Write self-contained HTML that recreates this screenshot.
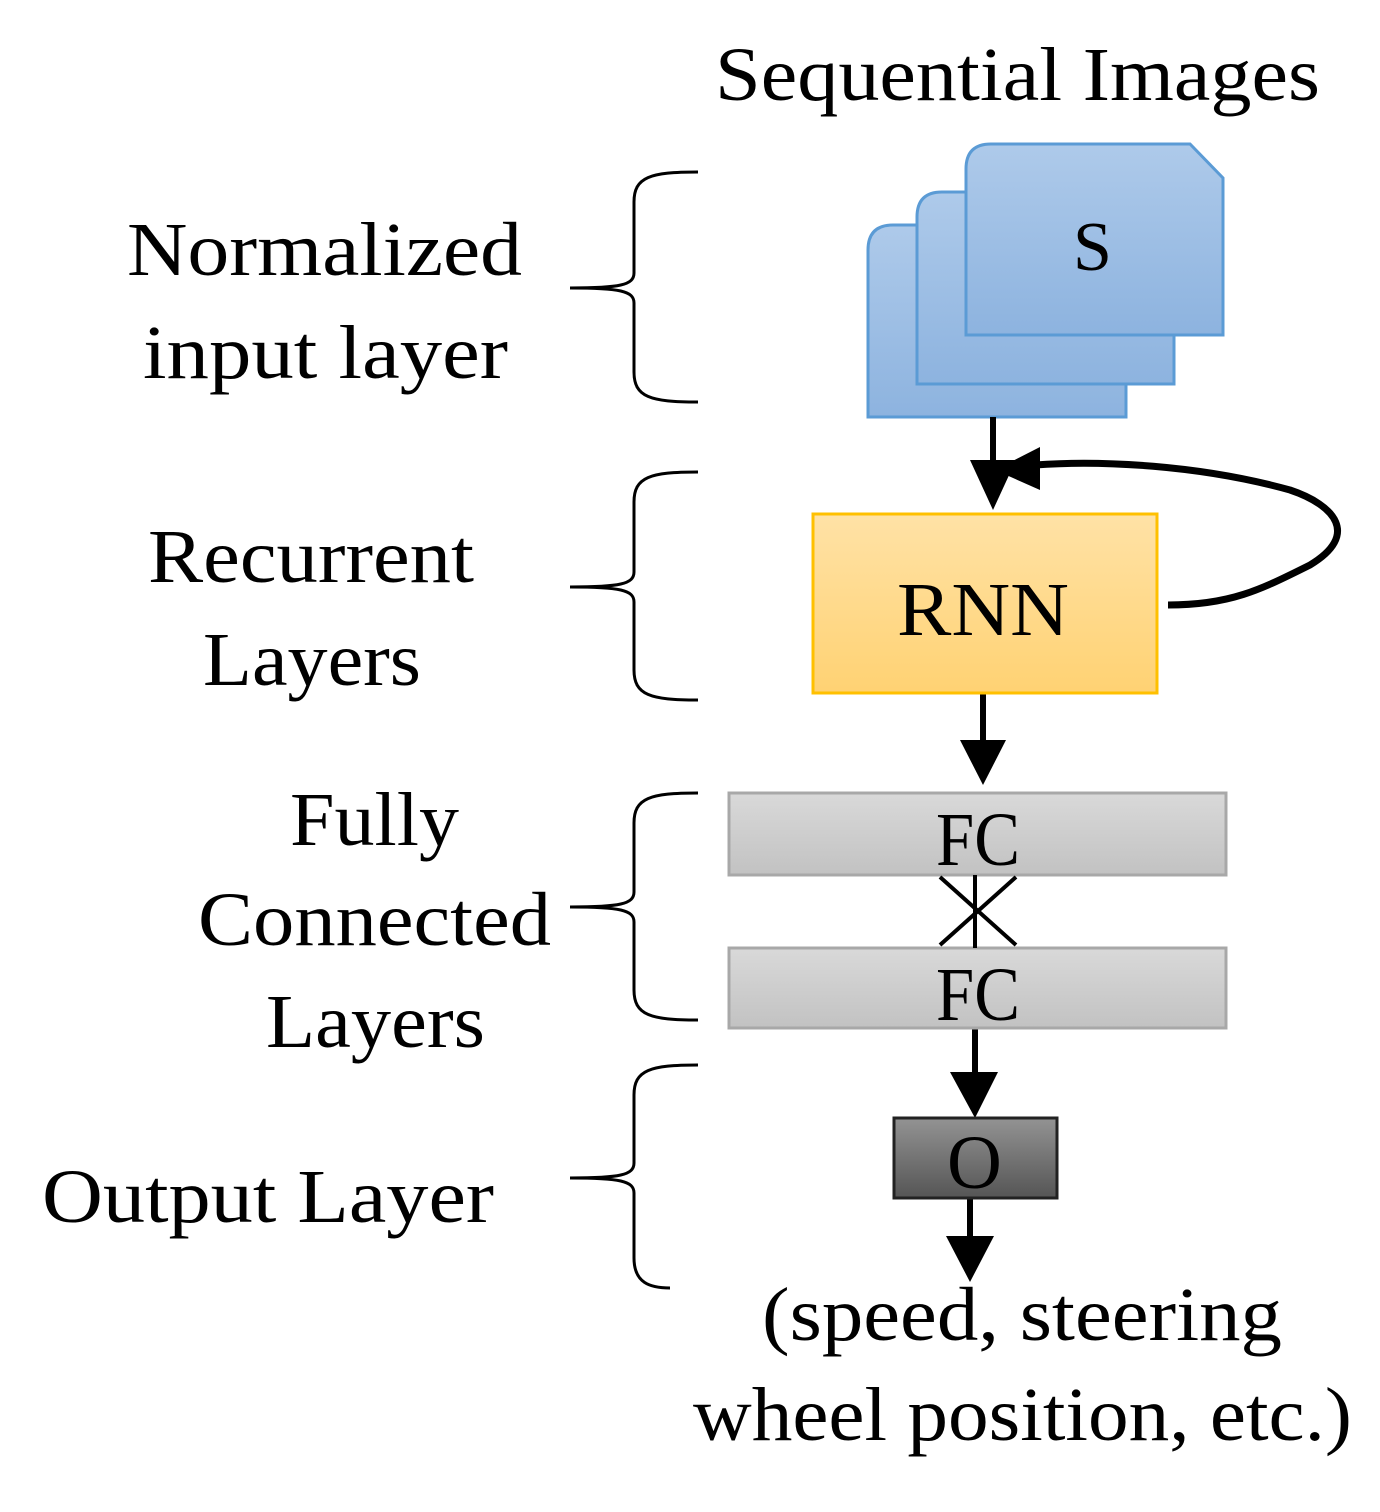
<!DOCTYPE html>
<html><head><meta charset="utf-8"><style>html,body{margin:0;padding:0;background:#fff}svg{display:block}</style></head>
<body>
<svg width="1380" height="1512" viewBox="0 0 1380 1512" xmlns="http://www.w3.org/2000/svg" font-family="'Liberation Serif', serif" font-size="76">
<defs>
<linearGradient id="gb" x1="0" y1="0" x2="0" y2="1"><stop offset="0" stop-color="#aecaea"/><stop offset="1" stop-color="#8db3df"/></linearGradient>
<linearGradient id="gy" x1="0" y1="0" x2="0" y2="1"><stop offset="0" stop-color="#ffe2a6"/><stop offset="1" stop-color="#ffd273"/></linearGradient>
<linearGradient id="gg" x1="0" y1="0" x2="0" y2="1"><stop offset="0" stop-color="#d9d9d9"/><stop offset="1" stop-color="#c2c2c2"/></linearGradient>
<linearGradient id="gd" x1="0" y1="0" x2="0" y2="1"><stop offset="0" stop-color="#939393"/><stop offset="1" stop-color="#555"/></linearGradient>
</defs>
<text x="715" y="100" textLength="605" lengthAdjust="spacingAndGlyphs">Sequential Images</text>
<path d="M868,417 L868,250 Q868,225 893,225 L1126,225 L1126,417 Z" fill="url(#gb)" stroke="#5b9bd5" stroke-width="3"/>
<path d="M917,384 L917,217 Q917,192 942,192 L1174,192 L1174,384 Z" fill="url(#gb)" stroke="#5b9bd5" stroke-width="3"/>
<path d="M966,335 L966,169 Q966,144 991,144 L1190,144 L1223,178 L1223,335 Z" fill="url(#gb)" stroke="#5b9bd5" stroke-width="3"/>
<text x="1073" y="270" font-size="70">S</text>
<g stroke="#000" stroke-width="6" fill="none">
<line x1="993" y1="417" x2="993" y2="470"/>
<line x1="983" y1="693" x2="983" y2="745"/>
<line x1="975" y1="1028" x2="975" y2="1080"/>
<line x1="970" y1="1198" x2="970" y2="1245"/>
<path d="M1168,605 C1230,605 1260,590 1310,565 C1360,535 1335,505 1290,490 C1200,465 1100,460 1035,465" stroke-width="7"/>
</g>
<g fill="#000">
<polygon points="970,460 1016,460 993,510"/>
<polygon points="960,740 1006,740 983,785"/>
<polygon points="950,1072 998,1072 975,1118"/>
<polygon points="946,1236 994,1236 970,1282"/>
<polygon points="995,470 1040,447 1040,490"/>
</g>
<rect x="813" y="514" width="344" height="179" fill="url(#gy)" stroke="#ffc000" stroke-width="3"/>
<text x="897" y="635" textLength="172" lengthAdjust="spacingAndGlyphs">RNN</text>
<rect x="729" y="793" width="497" height="82" fill="url(#gg)" stroke="#a8a8a8" stroke-width="3"/>
<rect x="729" y="948" width="497" height="80" fill="url(#gg)" stroke="#a8a8a8" stroke-width="3"/>
<text x="936" y="865" textLength="84" lengthAdjust="spacingAndGlyphs">FC</text>
<text x="936" y="1020" textLength="84" lengthAdjust="spacingAndGlyphs">FC</text>
<g stroke="#000" stroke-width="4"><line x1="940" y1="877" x2="1016" y2="945"/><line x1="1016" y1="877" x2="940" y2="945"/><line x1="975" y1="875" x2="975" y2="948"/></g>
<rect x="894" y="1118" width="163" height="80" fill="url(#gd)" stroke="#222" stroke-width="3"/>
<text x="947" y="1188">O</text>
<text x="762" y="1340" textLength="520" lengthAdjust="spacingAndGlyphs">(speed, steering</text>
<text x="693" y="1440" textLength="659" lengthAdjust="spacingAndGlyphs">wheel position, etc.)</text>
<g stroke="#000" stroke-width="3" fill="none">
<path d="M698,172 C650,172 634,177 634,202 L634,273 C634,285 620,288 570,288 C620,288 634,291 634,303 L634,372 C634,397 650,402 698,402"/>
<path d="M698,472 C650,472 634,477 634,502 L634,572 C634,584 620,587 570,587 C620,587 634,590 634,602 L634,670 C634,695 650,700 698,700"/>
<path d="M698,793 C650,793 634,798 634,823 L634,892 C634,904 620,907 570,907 C620,907 634,910 634,922 L634,990 C634,1015 650,1020 698,1020"/>
<path d="M698,1065 C650,1065 634,1070 634,1095 L634,1163 C634,1175 620,1178 570,1178 C620,1178 634,1181 634,1193 L634,1258 C634,1283 650,1288 670,1288"/>
</g>
<text x="127" y="275" textLength="395" lengthAdjust="spacingAndGlyphs">Normalized</text>
<text x="143" y="378" textLength="365" lengthAdjust="spacingAndGlyphs">input layer</text>
<text x="148" y="582" textLength="326" lengthAdjust="spacingAndGlyphs">Recurrent</text>
<text x="203" y="685" textLength="218" lengthAdjust="spacingAndGlyphs">Layers</text>
<text x="290" y="845" textLength="169" lengthAdjust="spacingAndGlyphs">Fully</text>
<text x="198" y="945" textLength="353" lengthAdjust="spacingAndGlyphs">Connected</text>
<text x="266" y="1047" textLength="219" lengthAdjust="spacingAndGlyphs">Layers</text>
<text x="42" y="1222" textLength="452" lengthAdjust="spacingAndGlyphs">Output Layer</text>
</svg>
</body></html>
